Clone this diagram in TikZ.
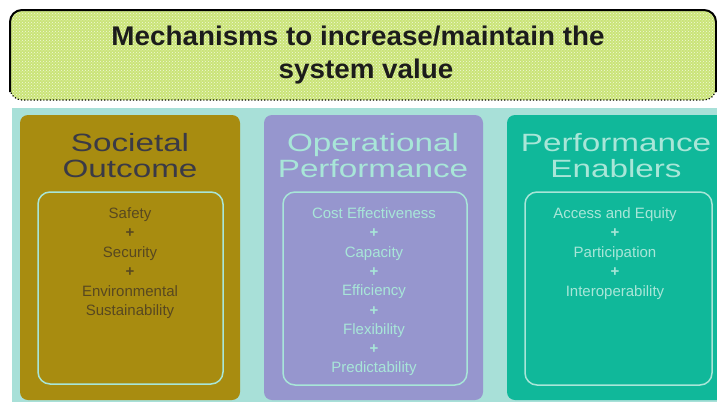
\documentclass[tikz,border=0pt]{standalone}
\usepackage{fontspec}
\setmainfont{Liberation Sans}
\usetikzlibrary{patterns}
\definecolor{bgteal}{HTML}{A8E0D8}
\definecolor{olivebox}{HTML}{A88C10}
\definecolor{lavbox}{HTML}{9696CE}
\definecolor{tealbox}{HTML}{10B89A}
\definecolor{lighttext}{HTML}{A8E6D8}
\definecolor{darktitle}{HTML}{3A3A46}
\definecolor{darkitem}{HTML}{584820}
\definecolor{limefill}{HTML}{CAE478}
\definecolor{limedots}{HTML}{F2F8DC}
\definecolor{bannertext}{HTML}{1C1C1C}
\tikzset{
  panelbox/.style={rounded corners=8pt},
  innerbox/.style={draw=lighttext, line width=1.5pt, rounded corners=12pt},
  titletext/.style={inner sep=0pt, anchor=base, font=\fontsize{25}{27}\selectfont},
  itemtext/.style={inner sep=0pt, anchor=base, font=\fontsize{15}{17}\selectfont},
  bannerfont/.style={inner sep=0pt, anchor=base, text=bannertext, font=\fontsize{27}{30}\selectfont\bfseries},
}
\newcommand{\wide}[1]{\scalebox{1.33}[1]{#1}}
\begin{document}
\begin{tikzpicture}[x=1pt,y=-1pt]
\useasboundingbox (0,0) rectangle (717,402);
\clip (0,0) rectangle (717,402);
% banner
\path[preaction={fill=limefill}, pattern=crosshatch dots, pattern color=limedots, rounded corners=12pt]
  (10,10) rectangle (716,100);
\draw[line width=2pt, rounded corners=12pt] (10,92) -- (10,10) -- (716,10) -- (716,92);
\draw[line width=1.2pt, dotted, rounded corners=12pt] (10,80) -- (10,100) -- (716,100) -- (716,80);
\node[bannerfont] (b1) at (358,45) {\scalebox{1.03}[1]{Mechanisms to increase/maintain the}};
\node[bannerfont] (b2) at (366,78) {\scalebox{1.03}[1]{system value}};
% background
\fill[bgteal] (12,108) rectangle (717,402);
% boxes
\fill[olivebox, panelbox] (20,115) rectangle (240,400);
\fill[lavbox, panelbox] (264,115) rectangle (483,400);
\fill[tealbox, panelbox] (507,115) rectangle (727,400);
\draw[innerbox] (38,192) rectangle (223,384);
\draw[innerbox] (283,192) rectangle (467,385);
\draw[innerbox] (525,192) rectangle (712,385);
% titles
\node[titletext, text=darktitle] (so1) at (130,151) {\wide{Societal}};
\node[titletext, text=darktitle] (so2) at (130,177) {\wide{Outcome}};
\node[titletext, text=lighttext] (op1) at (373,151) {\wide{Operational}};
\node[titletext, text=lighttext] (op2) at (373,177) {\wide{Performance}};
\node[titletext, text=lighttext] (pe1) at (616,151) {\wide{Performance}};
\node[titletext, text=lighttext] (pe2) at (616,177) {\wide{Enablers}};
% items
\foreach \t [count=\i] in {Safety,\textbf{+},Security,\textbf{+},Environmental,Sustainability}
  \node[itemtext, text=darkitem] (si\i) at (130,{218.5+19.4*(\i-1)}) {\t};
\foreach \t [count=\i] in {Cost Effectiveness,\textbf{+},Capacity,\textbf{+},Efficiency,\textbf{+},Flexibility,\textbf{+},Predictability}
  \node[itemtext, text=lighttext] (oi\i) at (374,{218.5+19.3*(\i-1)}) {\t};
\foreach \t [count=\i] in {Access and Equity,\textbf{+},Participation,\textbf{+},Interoperability}
  \node[itemtext, text=lighttext] (ei\i) at (615,{218.5+19.4*(\i-1)}) {\t};
\end{tikzpicture}
\end{document}
